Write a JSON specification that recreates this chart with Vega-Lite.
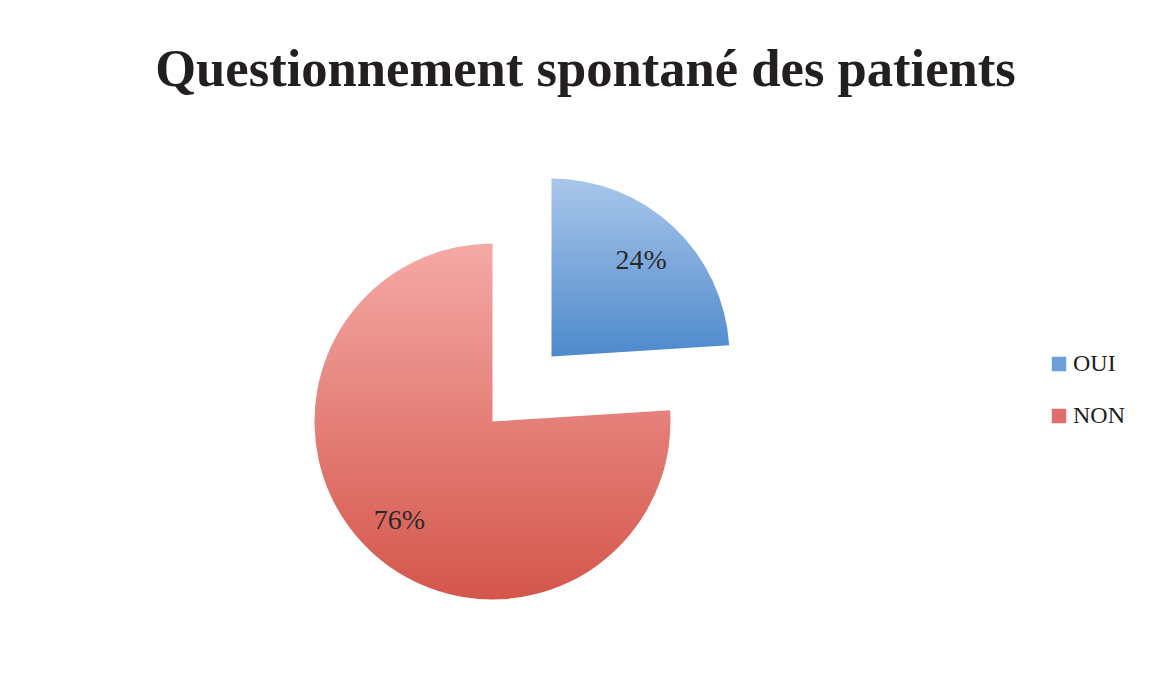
{
  "$schema": "https://vega.github.io/schema/vega-lite/v6.json",
  "width": 985,
  "height": 503,
  "autosize": {"type": "none"},
  "padding": {"left": 0, "top": 170, "right": 166, "bottom": 4},
  "background": "white",
  "config": {"view": {"stroke": null}, "font": "Liberation Serif"},
  "title": {
    "text": "Questionnement spontané des patients",
    "font": "Liberation Serif",
    "fontSize": 52.6,
    "fontWeight": "bold",
    "color": "#231f20",
    "anchor": "middle",
    "offset": 73,
    "dx": 93
  },
  "data": {
    "values": [
      {"reponse": "OUI", "part": 0.24},
      {"reponse": "NON", "part": 0.76}
    ]
  },
  "transform": [
    {"stack": "part", "groupby": [], "sort": [{"field": "reponse", "order": "descending"}], "as": ["debut", "fin"]}
  ],
  "layer": [
    {
      "transform": [{"filter": "datum.reponse === 'NON'"}],
      "mark": {
        "type": "arc",
        "outerRadius": 178,
        "fill": {"gradient": "linear", "x1": 0, "y1": 0, "x2": 0, "y2": 1,
          "stops": [{"offset": 0, "color": "#f5a9a6"}, {"offset": 1, "color": "#d4564b"}]}
      },
      "encoding": {
        "theta": {"field": "debut", "type": "quantitative", "scale": {"domain": [0, 1]}},
        "theta2": {"field": "fin"}
      }
    },
    {
      "transform": [{"filter": "datum.reponse === 'OUI'"}],
      "mark": {
        "type": "arc",
        "outerRadius": 178,
        "xOffset": 59,
        "yOffset": -65,
        "fill": {"gradient": "linear", "x1": 0, "y1": 0, "x2": 0, "y2": 1,
          "stops": [{"offset": 0, "color": "#a9c7ea"}, {"offset": 1, "color": "#4d89cc"}]}
      },
      "encoding": {
        "theta": {"field": "debut", "type": "quantitative", "scale": {"domain": [0, 1]}},
        "theta2": {"field": "fin"}
      }
    },
    {
      "mark": {"type": "arc", "outerRadius": 0},
      "encoding": {
        "theta": {"field": "debut", "type": "quantitative", "scale": {"domain": [0, 1]}},
        "theta2": {"field": "fin"},
        "color": {
          "field": "reponse",
          "type": "nominal",
          "scale": {"domain": ["OUI", "NON"], "range": ["#6d9fd8", "#e06f6b"]},
          "legend": {
            "orient": "none",
            "legendX": 1047,
            "legendY": 182,
            "title": null,
            "padding": 0,
            "symbolType": "square",
            "symbolSize": 210,
            "symbolStrokeWidth": 0,
            "labelFont": "Liberation Serif",
            "labelFontSize": 24,
            "labelColor": "#231f20",
            "labelOffset": 2,
            "rowPadding": 28
          }
        }
      }
    },
    {
      "mark": {"type": "text", "font": "Liberation Serif", "fontSize": 28, "color": "#2a2a2a", "align": "center", "baseline": "middle", "radius": 136},
      "encoding": {
        "theta": {"field": "part", "type": "quantitative", "stack": true, "scale": {"domain": [0, 1]}},
        "order": {"field": "reponse", "sort": "descending"},
        "opacity": {"condition": {"test": "datum.reponse === 'NON'", "value": 1}, "value": 0},
        "text": {"field": "part", "type": "quantitative", "format": ".0%"}
      }
    },
    {
      "mark": {"type": "text", "font": "Liberation Serif", "fontSize": 28, "color": "#2a2a2a", "align": "center", "baseline": "middle", "radius": 131, "xOffset": 59, "yOffset": -65},
      "encoding": {
        "theta": {"field": "part", "type": "quantitative", "stack": true, "scale": {"domain": [0, 1]}},
        "order": {"field": "reponse", "sort": "descending"},
        "opacity": {"condition": {"test": "datum.reponse === 'OUI'", "value": 1}, "value": 0},
        "text": {"field": "part", "type": "quantitative", "format": ".0%"}
      }
    }
  ]
}
